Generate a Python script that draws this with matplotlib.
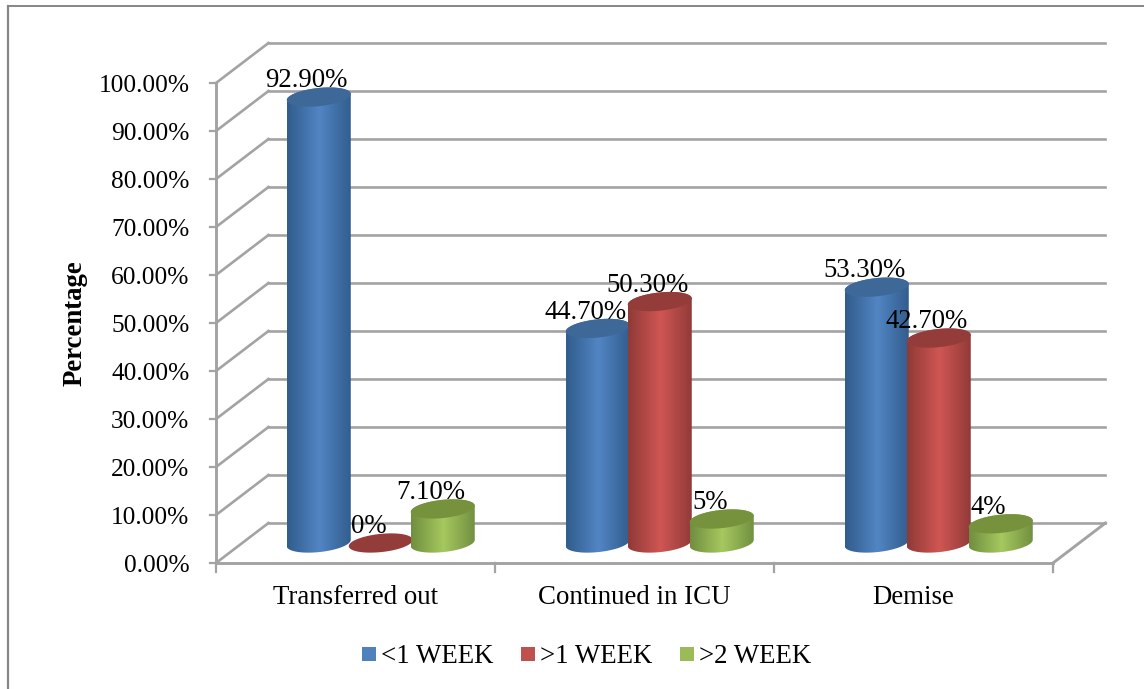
#!/usr/bin/env python3
"""3D-style cylinder chart of ICU outcome by length of stay, saved to out.png."""
import matplotlib
matplotlib.use("Agg")
import numpy as np, matplotlib.pyplot as plt
from matplotlib.colors import LinearSegmentedColormap
from matplotlib.patches import PathPatch, Rectangle
from matplotlib.path import Path

categories = ["Transferred out", "Continued in ICU", "Demise"]
series_names = ["<1 WEEK", ">1 WEEK", ">2 WEEK"]
week1 = [92.9, 44.7, 53.3]
week1_labels = ["92.90%", "44.70%", "53.30%"]
week2 = [0, 50.3, 42.7]
week2_labels = ["0%", "50.30%", "42.70%"]
week3 = [7.1, 5, 4]
week3_labels = ["7.10%", "5%", "4%"]
y_ticks = list(range(0, 101, 10))

plt.rcParams["font.family"] = ["Liberation Serif", "DejaVu Serif"]
W, H, DPI = 1144, 689, 100
GRID, FRAME = "#a3a3a3", "#868686"
TICK_FS, CAT_FS, VALUE_FS, AXIS_FS, LEGEND_FS = 18.3, 19.4, 19.3, 19.3, 19.4

# (body edge, body centre, cap, legend swatch)
PALETTE = [("#315c8c", "#5285c3", "#3e6897", "#4f81bd"),
           ("#8f3a38", "#cf5653", "#943c3a", "#c0504d"),
           ("#708e40", "#a6c85e", "#76923c", "#9bbb59")]

# depth of the fake 3D box in data units, and where bars sit inside it
DEPTH_X, DEPTH_Y = 0.188, 8.33
BAR_W, BAR_STEP, CAP_H, TILT = 0.2294, 0.2222, 1.9, 0.65
LABEL_SHIFT = -0.043

fig = plt.figure(figsize=(W / DPI, H / DPI), dpi=DPI, facecolor="white")
ax = fig.add_axes([216 / W, 1 - 563 / H, 837 / W, 480 / H])
ax.set_xlim(0, 3)
ax.set_ylim(0, 100)
ax.axis("off")


def line(xs, ys, color=GRID, lw=1.9, z=1):
    ax.plot(xs, ys, color=color, lw=lw, clip_on=False, zorder=z,
            solid_capstyle="projecting")


# walls: back gridlines plus the diagonals on the left side wall
for t in y_ticks:
    line([DEPTH_X, 3 + DEPTH_X], [t + DEPTH_Y, t + DEPTH_Y])
    line([0, DEPTH_X], [t, t + DEPTH_Y])
line([0, 3], [0, 0], lw=2.1)
line([3, 3 + DEPTH_X], [0, DEPTH_Y], lw=2.1)

# axis line and tick marks
line([0, 0], [0, 100], lw=2.1)
for t in y_ticks:
    line([-0.022, 0], [t, t], lw=1.6)
    ax.text(-0.095, t - 0.6, f"{t:.2f}%", ha="right", va="center", fontsize=TICK_FS,
            color="black", clip_on=False)
for c in range(4):
    line([c, c], [0, -1.9], lw=1.6)
for c, name in enumerate(categories):
    ax.text(c + 0.5, -7.2, name, ha="center", va="center", fontsize=CAT_FS,
            clip_on=False)
ax.text(-0.506, 49.9, "Percentage", rotation=90, ha="center", va="center",
        fontsize=AXIS_FS, fontweight="bold", clip_on=False)


def ellipse_xy(cx, cy, t):
    return (cx + BAR_W / 2 * np.cos(t),
            cy + CAP_H * np.sin(t) + TILT * np.cos(t))


def cylinder(cx, value, colors, z):
    edge, mid, cap, _ = colors
    base = DEPTH_Y / 2
    top = base + value
    if value > 0:
        # outline: up the left side, over the top, down and round the base
        t_low = np.linspace(np.pi, 2 * np.pi, 60)
        t_up = np.linspace(0, np.pi, 60)
        bx, by = ellipse_xy(cx, base, t_low)
        tx, ty = ellipse_xy(cx, top, t_up)
        verts = np.column_stack([np.r_[bx, tx], np.r_[by, ty]])
        verts = np.vstack([verts, verts[0]])
        clip = PathPatch(Path(verts, closed=True), transform=ax.transData,
                         fc="none", ec="none")
        ax.add_patch(clip)
        cmap = LinearSegmentedColormap.from_list("body", [edge, mid, edge], N=128)
        grad = np.linspace(0, 1, 128).reshape(1, -1)
        im = ax.imshow(grad, cmap=cmap, aspect="auto", zorder=z,
                       extent=[cx - BAR_W / 2, cx + BAR_W / 2, base - 3, top + 3],
                       interpolation="bilinear")
        im.set_clip_path(clip)
    t = np.linspace(0, 2 * np.pi, 90)
    ex, ey = ellipse_xy(cx, top, t)
    ax.fill(ex, ey, color=cap, lw=0, zorder=z + 0.1, clip_on=False)


def value_label(x, value, text, z):
    ax.text(x, DEPTH_Y / 2 + value + 0.8, text, ha="center", va="bottom",
            fontsize=VALUE_FS, clip_on=False, zorder=z)


all_values = [week1, week2, week3]
all_labels = [week1_labels, week2_labels, week3_labels]
for s, (vals, labs) in enumerate(zip(all_values, all_labels)):
    for c, (v, lab) in enumerate(zip(vals, labs)):
        cx = c + 0.5905 + (s - 1) * BAR_STEP
        cylinder(cx, v, PALETTE[s], 3 + s)
        value_label(cx + LABEL_SHIFT, v, lab, 10)

ax.set_xlim(0, 3)
ax.set_ylim(0, 100)

# legend row under the axis
for name, colors, sx in zip(series_names, PALETTE, (0.5233, 1.0932, 1.663)):
    ax.add_patch(Rectangle((sx, -20.4), 14 / 279, 2.92, fc=colors[3], ec="none",
                           clip_on=False))
    ax.text(sx + 19 / 279, -19.5, name, ha="left", va="center", fontsize=LEGEND_FS,
            clip_on=False)

# outer frame
fig.add_artist(plt.Line2D([8 / W, 8 / W], [0, 1 - 6 / H], color=FRAME, lw=1.6))
fig.add_artist(plt.Line2D([8 / W, 1], [1 - 6 / H, 1 - 6 / H], color=FRAME, lw=1.4))

fig.savefig("out.png", dpi=DPI, facecolor="white")
